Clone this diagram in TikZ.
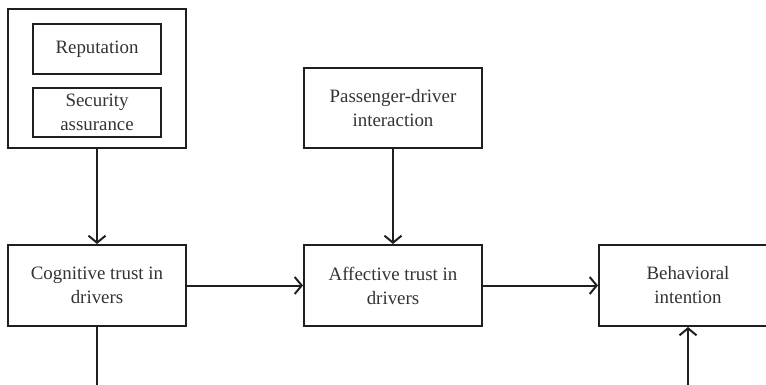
\documentclass[tikz,border=0pt]{standalone}
\usepackage{fontspec}
\setmainfont{Liberation Serif}
\usetikzlibrary{arrows.meta,positioning}
\tikzset{
	box/.style={draw=black!88, line width=2pt, minimum width=178pt, minimum height=81pt, align=center, inner sep=0pt, font=\fontsize{18.9}{24}\selectfont, text=black!80},
	inbox/.style={box, minimum width=128pt, minimum height=50pt},
	link/.style={draw=black!88, line width=2pt, -{Straight Barb[length=7pt,width=17pt,line width=2pt]}}
}
\begin{document}
\begin{tikzpicture}[x=1pt, y=-1pt]
			%%%%% START %%%%%
			\clip (0, 0) rectangle (766, 384);
			
			\node[box, minimum height=139pt] (ante) at (97, 78.5) {};
			\node[inbox] (rep) at (97, 49) {Reputation};
			\node[inbox, minimum height=49pt] (sec) at (97, 112.5) {Security\\assurance};
			
			\node[box, minimum height=80pt] (pass) at (393, 108) {Passenger-driver\\interaction};
			
			\node[box] (cog) at (97, 285.5) {Cognitive trust in\\drivers};
			\node[box] (aff) at (393, 285.5) {Affective trust in\\drivers};
			\node[box] (beh) at (688, 285.5) {Behavioral\\intention};
			
			\coordinate (cogout) at (97, 386);
			\coordinate (behin) at (688, 386);
			
			\draw[link] (ante) -- (cog);
			\draw[link] (pass) -- (aff);
			\draw[link] (cog) -- (aff);
			\draw[link] (aff) -- (beh);
			\draw[draw=black!88, line width=2pt] (cog) -- (cogout);
			\draw[link] (behin) -- (beh);
			
			%%%%% END %%%%%
\end{tikzpicture}
\end{document}
